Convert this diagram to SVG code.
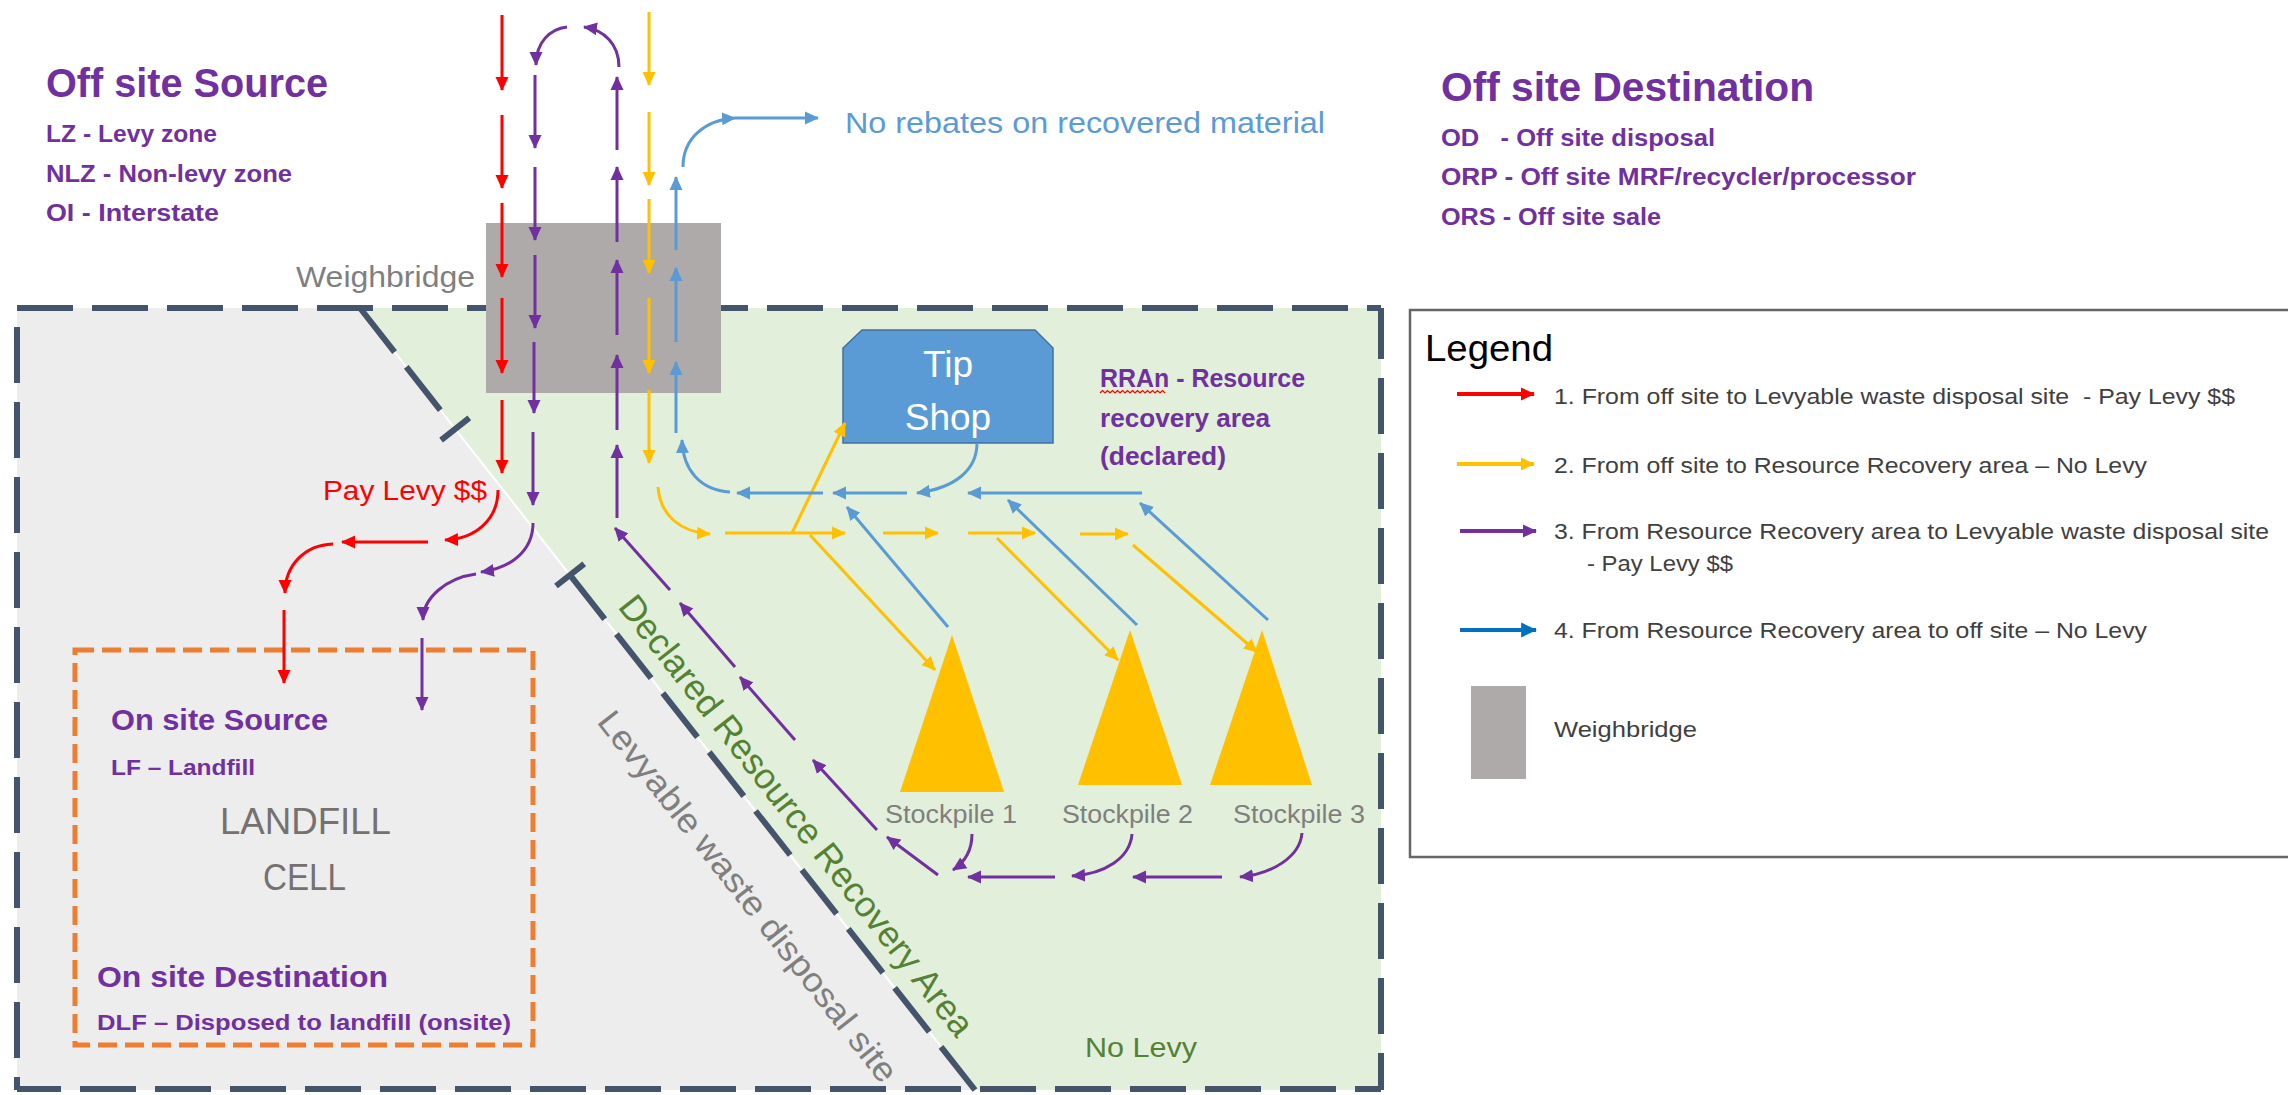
<svg xmlns="http://www.w3.org/2000/svg" width="2288" height="1095" viewBox="0 0 2288 1095">
<style>
text{font-family:"Liberation Sans",Arial,sans-serif}
.pb{fill:#7030a0;font-weight:bold}
.gy{fill:#7f7f7f}
.lg{fill:#404040;font-size:22px}
.a{fill:none;stroke-width:3}
.r{stroke:#ff0000;marker-end:url(#mr)}
.y{stroke:#ffc000;marker-end:url(#my)}
.p{stroke:#7030a0;marker-end:url(#mp)}
.b{stroke:#5b9bd5;marker-end:url(#mb)}
.bd{fill:none;stroke:#44546a;stroke-width:6;stroke-dasharray:56 19}
</style>
<defs>
<marker id="mr" viewBox="0 0 14 14" refX="13" refY="7" markerWidth="14" markerHeight="14" markerUnits="userSpaceOnUse" orient="auto"><path d="M0,0.5L14,7L0,13.5z" fill="#ff0000"/></marker>
<marker id="my" viewBox="0 0 14 14" refX="13" refY="7" markerWidth="14" markerHeight="14" markerUnits="userSpaceOnUse" orient="auto"><path d="M0,0.5L14,7L0,13.5z" fill="#ffc000"/></marker>
<marker id="mp" viewBox="0 0 14 14" refX="13" refY="7" markerWidth="14" markerHeight="14" markerUnits="userSpaceOnUse" orient="auto"><path d="M0,0.5L14,7L0,13.5z" fill="#7030a0"/></marker>
<marker id="mb" viewBox="0 0 14 14" refX="13" refY="7" markerWidth="14" markerHeight="14" markerUnits="userSpaceOnUse" orient="auto"><path d="M0,0.5L14,7L0,13.5z" fill="#5b9bd5"/></marker>
<marker id="mlb" viewBox="0 0 14 14" refX="13" refY="7" markerWidth="16" markerHeight="16" markerUnits="userSpaceOnUse" orient="auto"><path d="M0,0.5L14,7L0,13.5z" fill="#0070c0"/></marker>
</defs>

<g id="site-regions">
<polygon points="17,308 360,308 975,1090 17,1090" fill="#ededed"/>
<polygon points="360,308 1381,308 1381,1090 975,1090" fill="#e2efda"/>
<line x1="360" y1="308" x2="975" y2="1090" stroke="#ffffff" stroke-width="2"/>
</g>

<g id="site-boundary">
<line class="bd" x1="17" y1="308" x2="1381" y2="308"/>
<line class="bd" x1="17" y1="308" x2="17" y2="1090" stroke-dashoffset="56"/>
<line class="bd" x1="17" y1="1089" x2="1381" y2="1089" stroke-dashoffset="12"/>
<line class="bd" x1="1381" y1="308" x2="1381" y2="1090" stroke-dashoffset="5"/>
<path class="bd" d="M360,308L440.3,410.2" stroke-dasharray="54 20"/>
<line x1="441.1" y1="440.1" x2="469.3" y2="417.9" stroke="#44546a" stroke-width="6"/>
<path class="bd" d="M570.1,575.2L975,1090" stroke-dasharray="55 20"/>
<line x1="556" y1="586" x2="584.2" y2="563.9" stroke="#44546a" stroke-width="6"/>
</g>

<g id="region-labels">
<text transform="translate(616.9,606.9) rotate(51.82)" font-size="36" fill="#548235" textLength="550" lengthAdjust="spacingAndGlyphs">Declared Resource Recovery Area</text>
<text transform="translate(596,722) rotate(51.82)" font-size="34" class="gy" textLength="462" lengthAdjust="spacingAndGlyphs">Levyable waste disposal site</text>
<text x="1085" y="1057" font-size="28" fill="#548235" textLength="112" lengthAdjust="spacingAndGlyphs">No Levy</text>
<text x="323" y="500" font-size="28" fill="#ff0000" textLength="164" lengthAdjust="spacingAndGlyphs">Pay Levy $$</text>
<text x="845" y="133" font-size="30" fill="#5b9bd5" textLength="480" lengthAdjust="spacingAndGlyphs">No rebates on recovered material</text>
</g>

<g id="off-site-source">
<text x="46" y="97" font-size="40" class="pb" textLength="282" lengthAdjust="spacingAndGlyphs">Off site Source</text>
<text x="46" y="142" font-size="23" class="pb" textLength="171" lengthAdjust="spacingAndGlyphs">LZ - Levy zone</text>
<text x="46" y="182" font-size="23" class="pb" textLength="246" lengthAdjust="spacingAndGlyphs">NLZ - Non-levy zone</text>
<text x="46" y="221" font-size="23" class="pb" textLength="173" lengthAdjust="spacingAndGlyphs">OI - Interstate</text>
</g>

<g id="off-site-destination">
<text x="1441" y="101" font-size="40" class="pb" textLength="373" lengthAdjust="spacingAndGlyphs">Off site Destination</text>
<text x="1441" y="146" font-size="23" class="pb" textLength="274" lengthAdjust="spacingAndGlyphs" xml:space="preserve">OD   - Off site disposal</text>
<text x="1441" y="185" font-size="23" class="pb" textLength="475" lengthAdjust="spacingAndGlyphs">ORP - Off site MRF/recycler/processor</text>
<text x="1441" y="225" font-size="23" class="pb" textLength="220" lengthAdjust="spacingAndGlyphs">ORS - Off site sale</text>
</g>

<g id="landfill-cell">
<rect x="75" y="650" width="458" height="395" fill="none" stroke="#ed7d31" stroke-width="5" stroke-dasharray="19 8"/>
<text x="111" y="730" font-size="30" class="pb" textLength="217" lengthAdjust="spacingAndGlyphs">On site Source</text>
<text x="111" y="775" font-size="22" class="pb" textLength="144" lengthAdjust="spacingAndGlyphs">LF – Landfill</text>
<text x="220" y="834" font-size="36" fill="#767171" textLength="171" lengthAdjust="spacingAndGlyphs">LANDFILL</text>
<text x="263" y="890" font-size="36" fill="#767171" textLength="83" lengthAdjust="spacingAndGlyphs">CELL</text>
<text x="97" y="987" font-size="30" class="pb" textLength="291" lengthAdjust="spacingAndGlyphs">On site Destination</text>
<text x="97" y="1030" font-size="22" class="pb" textLength="414" lengthAdjust="spacingAndGlyphs">DLF – Disposed to landfill (onsite)</text>
</g>

<g id="weighbridge">
<rect x="486" y="223" width="235" height="170" fill="#aeaaaa"/>
<text x="296" y="287" font-size="30" class="gy" textLength="179" lengthAdjust="spacingAndGlyphs">Weighbridge</text>
</g>

<g id="tip-shop">
<polygon points="862,330 1035,330 1053,348 1053,443 843,443 843,348" fill="#5b9bd5" stroke="#41719c" stroke-width="1.5"/>
<text x="948" y="377" font-size="37" fill="#ffffff" text-anchor="middle">Tip</text>
<text x="948" y="430" font-size="37" fill="#ffffff" text-anchor="middle">Shop</text>
</g>

<g id="rran-label">
<text x="1100" y="387" font-size="25" class="pb" textLength="205" lengthAdjust="spacingAndGlyphs">RRAn - Resource</text>
<path d="M1100,393l2.5,-2.5l2.5,2.5l2.5,-2.5l2.5,2.5l2.5,-2.5l2.5,2.5l2.5,-2.5l2.5,2.5l2.5,-2.5l2.5,2.5l2.5,-2.5l2.5,2.5l2.5,-2.5l2.5,2.5l2.5,-2.5l2.5,2.5l2.5,-2.5l2.5,2.5l2.5,-2.5l2.5,2.5l2.5,-2.5l2.5,2.5l2.5,-2.5l2.5,2.5l2.5,-2.5l2.5,2.5" fill="none" stroke="#ff0000" stroke-width="1.2"/>
<text x="1100" y="427" font-size="25" class="pb" textLength="170" lengthAdjust="spacingAndGlyphs">recovery area</text>
<text x="1100" y="465" font-size="25" class="pb" textLength="126" lengthAdjust="spacingAndGlyphs">(declared)</text>
</g>

<g id="stockpile-1">
<polygon points="952,635 1004,792 900,792" fill="#ffc000"/>
<text x="885" y="823" font-size="25" class="gy" textLength="132" lengthAdjust="spacingAndGlyphs">Stockpile 1</text>
</g>
<g id="stockpile-2">
<polygon points="1130,630 1182,785 1078,785" fill="#ffc000"/>
<text x="1062" y="823" font-size="25" class="gy" textLength="131" lengthAdjust="spacingAndGlyphs">Stockpile 2</text>
</g>
<g id="stockpile-3">
<polygon points="1262,630 1312,785 1210,785" fill="#ffc000"/>
<text x="1233" y="823" font-size="25" class="gy" textLength="132" lengthAdjust="spacingAndGlyphs">Stockpile 3</text>
</g>

<g id="connectors">
<path class="a r" d="M502,15V90"/>
<path class="a r" d="M502,115V188"/>
<path class="a r" d="M502,203V277"/>
<path class="a r" d="M502,298V373"/>
<path class="a r" d="M502,400V473"/>
<path class="a r" d="M498,490C498,520 475,539 445,540"/>
<path class="a r" d="M428,542H342"/>
<path class="a r" d="M333,544C305,545 285,565 285,593"/>
<path class="a r" d="M284,610V683"/>

<path class="a p" d="M567,27C550,29 536,42 536,65"/>
<path class="a p" d="M619,67C619,44 604,30 584,27"/>
<path class="a p" d="M535,75V148"/>
<path class="a p" d="M535,167V240"/>
<path class="a p" d="M535,255V328"/>
<path class="a p" d="M534,342V413"/>
<path class="a p" d="M533,432V505"/>
<path class="a p" d="M533,523C533,550 512,568 481,572"/>
<path class="a p" d="M476,574C446,578 423,598 423,620"/>
<path class="a p" d="M422,638V710"/>
<path class="a p" d="M617,150V77"/>
<path class="a p" d="M617,242V167"/>
<path class="a p" d="M617,335V260"/>
<path class="a p" d="M617,430V355"/>
<path class="a p" d="M617,518V445"/>
<path class="a p" d="M670,590L615,528"/>
<path class="a p" d="M735,667L680,603"/>
<path class="a p" d="M795,740L740,677"/>
<path class="a p" d="M877,830L813,760"/>
<path class="a p" d="M938,875L887,837"/>
<path class="a p" d="M972,834C972,850 965,862 953,870"/>
<path class="a p" d="M1055,877H968"/>
<path class="a p" d="M1132,834C1130,858 1105,874 1072,876"/>
<path class="a p" d="M1222,877H1133"/>
<path class="a p" d="M1302,833C1300,857 1272,874 1240,877"/>

<path class="a y" d="M649,12V85"/>
<path class="a y" d="M649,112V185"/>
<path class="a y" d="M649,199V273"/>
<path class="a y" d="M649,298V373"/>
<path class="a y" d="M649,390V463"/>
<path class="a y" d="M658,487C660,515 680,532 710,534"/>
<path class="a y" d="M725,533H845"/>
<path class="a y" d="M792,533L845,423"/>
<path class="a y" d="M810,535L935,670"/>
<path class="a y" d="M883,533H938"/>
<path class="a y" d="M968,533H1035"/>
<path class="a y" d="M1080,534H1128"/>
<path class="a y" d="M997,538L1118,660"/>
<path class="a y" d="M1133,545L1257,652"/>

<path class="a b" d="M676,250V177"/>
<path class="a b" d="M676,342V268"/>
<path class="a b" d="M676,433V362"/>
<path class="a b" d="M683,167C683,138 705,120 735,118"/>
<path class="a b" d="M735,118H818"/>
<path class="a b" d="M730,492C700,490 683,470 682,440"/>
<path class="a b" d="M823,493H737"/>
<path class="a b" d="M907,493H833"/>
<path class="a b" d="M1142,493H968"/>
<path class="a b" d="M977,443C977,470 955,488 917,493"/>
<path class="a b" d="M948,627L847,507"/>
<path class="a b" d="M1137,625L1008,500"/>
<path class="a b" d="M1268,620L1140,503"/>
</g>

<g id="legend">
<rect x="1410" y="310" width="890" height="547" fill="#ffffff" stroke="#666666" stroke-width="2.5"/>
<text x="1425" y="361" font-size="37" fill="#000000" textLength="128" lengthAdjust="spacingAndGlyphs">Legend</text>
<path d="M1457,394H1534" fill="none" stroke="#ff0000" stroke-width="4" marker-end="url(#mr)"/>
<text x="1554" y="404" class="lg" textLength="681" lengthAdjust="spacingAndGlyphs" xml:space="preserve">1. From off site to Levyable waste disposal site  - Pay Levy $$</text>
<path d="M1457,464H1534" fill="none" stroke="#ffc000" stroke-width="4" marker-end="url(#my)"/>
<text x="1554" y="473" class="lg" textLength="593" lengthAdjust="spacingAndGlyphs">2. From off site to Resource Recovery area – No Levy</text>
<path d="M1460,531H1536" fill="none" stroke="#7030a0" stroke-width="4" marker-end="url(#mp)"/>
<text x="1554" y="539" class="lg" textLength="715" lengthAdjust="spacingAndGlyphs">3. From Resource Recovery area to Levyable waste disposal site</text>
<text x="1587" y="571" class="lg" textLength="146" lengthAdjust="spacingAndGlyphs">- Pay Levy $$</text>
<path d="M1460,630H1536" fill="none" stroke="#0070c0" stroke-width="4" marker-end="url(#mlb)"/>
<text x="1554" y="638" class="lg" textLength="593" lengthAdjust="spacingAndGlyphs">4. From Resource Recovery area to off site – No Levy</text>
<rect x="1471" y="686" width="55" height="93" fill="#aeaaaa"/>
<text x="1554" y="737" class="lg" textLength="143" lengthAdjust="spacingAndGlyphs">Weighbridge</text>
</g>
</svg>
